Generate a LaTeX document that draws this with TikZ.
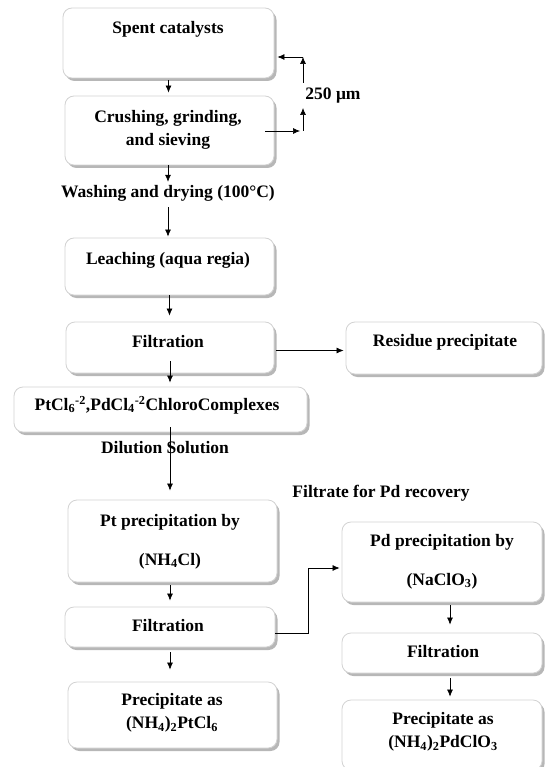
\documentclass[tikz,border=0pt]{standalone}
\usepackage{fontspec}
\setmainfont{Liberation Serif}
\usetikzlibrary{arrows.meta,shadows}

\begin{document}
\begin{tikzpicture}[x=1pt, y=-1pt,
  box/.style={draw=gray!35, line width=0.8pt, fill=white, rounded corners=9pt,
    drop shadow={shadow xshift=2.5pt, shadow yshift=-3pt, fill=black!40, opacity=0.7}},
  txt/.style={font=\fontsize{17.5}{23}\selectfont\bfseries, align=center, inner sep=1pt},
  seta/.style={-{Latex[length=7pt,width=6pt]}, line width=0.7pt}]

\useasboundingbox (0,0) rectangle (544,767);

% Coluna principal
\node[box, minimum width=211pt, minimum height=70pt] (spent) at (168.5,43) {};
\node[txt] (spentT) at (168,29) {Spent catalysts};

\node[box, minimum width=209pt, minimum height=69pt] (crush) at (169.5,130.5) {};
\node[txt] (crushT) at (168,130) {Crushing, grinding,\\and sieving};

\node[txt] (wash) at (168,193) {Washing and drying (100°C)};

\node[box, minimum width=209pt, minimum height=57pt] (leach) at (169.5,266.5) {};
\node[txt] (leachT) at (168,260) {Leaching (aqua regia)};

\node[box, minimum width=208pt, minimum height=51pt] (filt1) at (170,347.5) {};
\node[txt] (filt1T) at (168,342) {Filtration};

\node[box, minimum width=196pt, minimum height=52pt] (residue) at (444,348) {};
\node[txt] (residueT) at (445,342) {Residue precipitate};

\node[box, minimum width=293pt, minimum height=45pt] (ptcl) at (160.5,409.5) {};
\node[txt] (ptclT) at (157,405) {PtCl\textsubscript{6}\textsuperscript{-2},PdCl\textsubscript{4}\textsuperscript{-2}ChloroComplexes};

\node[txt] (dil) at (165,448) {Dilution Solution};
\node[txt] (filtrate) at (381,493) {Filtrate for Pd recovery};

% Pt
\node[box, minimum width=209pt, minimum height=82pt] (ptprec) at (172.5,541) {};
\node[txt] (ptprecA) at (170,522) {Pt precipitation by};
\node[txt] (ptprecB) at (170,561) {(NH\textsubscript{4}Cl)};

\node[box, minimum width=210pt, minimum height=40pt] (filt2) at (170,627) {};
\node[txt] (filt2T) at (168,626) {Filtration};

\node[box, minimum width=209pt, minimum height=66pt] (precpt) at (172.5,715) {};
\node[txt] (precptT) at (172,713) {Precipitate as\\(NH\textsubscript{4})\textsubscript{2}PtCl\textsubscript{6}};

% Pd
\node[box, minimum width=200pt, minimum height=80pt] (pdprec) at (442,562) {};
\node[txt] (pdprecA) at (442,542) {Pd precipitation by};
\node[txt] (pdprecB) at (442,581) {(NaClO\textsubscript{3})};

\node[box, minimum width=200pt, minimum height=40pt] (filt3) at (442,653) {};
\node[txt] (filt3T) at (443,652) {Filtration};

\node[box, minimum width=200pt, minimum height=70pt] (precpd) at (442,735) {};
\node[txt] (precpdT) at (443,732) {Precipitate as\\(NH\textsubscript{4})\textsubscript{2}PdClO\textsubscript{3}};

% Peneira
\coordinate (s1) at (300,131);
\coordinate (s2) at (303,131);
\coordinate (s3) at (303,108);
\coordinate (s4) at (303,83);
\coordinate (s5) at (303,57);
\node[txt] (mu) at (333,96) {250 μm};

% Conexoes
\draw[seta, shorten <=2pt, shorten >=3pt] (spent.south) -- (spent.south |- crush.north);
\draw[seta, shorten >=2pt] (wash.north |- crush.south) -- (wash.north);
\draw[seta, shorten <=5pt, shorten >=1pt] (wash.south) -- (wash.south |- leach.north);
\draw[seta, shorten >=6pt] (leach.south) -- (filt1.north -| leach.south);
\draw[seta, shorten <=2pt, shorten >=2pt] ([yshift=-3pt]filt1.east) -- ([yshift=-3pt]filt1.east -| residue.west);
\draw[seta, shorten >=4pt] ([yshift=12pt]filt1.south) -- (ptcl.north -| filt1.south);
\draw[seta, shorten >=9pt] ([yshift=5pt]ptcl.south -| filt1.south) -- (ptprec.north -| filt1.south);
\draw[seta, shorten <=3pt, shorten >=6pt] (ptprec.south -| filt2.south) -- (filt2.north);
\draw[seta, shorten <=5pt, shorten >=12pt] (filt2.south) -- (precpt.north -| filt2.south);
\draw[seta, shorten >=2pt] ([yshift=-6pt]filt2.east) -- ++(33,0) |- ([yshift=-6pt]pdprec.west);
\draw[seta, shorten <=3pt, shorten >=8pt] ([xshift=8pt]pdprec.south) -- ([xshift=8pt]filt3.north);
\draw[seta, shorten <=5pt, shorten >=3pt] ([xshift=8pt]filt3.south) -- ([xshift=8pt]precpd.north);

\draw[seta] ([xshift=-9pt]crush.east |- s1) -- (s1);
\draw[seta] (s2) -- (s3);
\draw[seta] (s4) -- (s5);
\draw[seta, shorten >=3pt] (s5) -- (s5 -| spent.east);

\end{tikzpicture}
\end{document}
